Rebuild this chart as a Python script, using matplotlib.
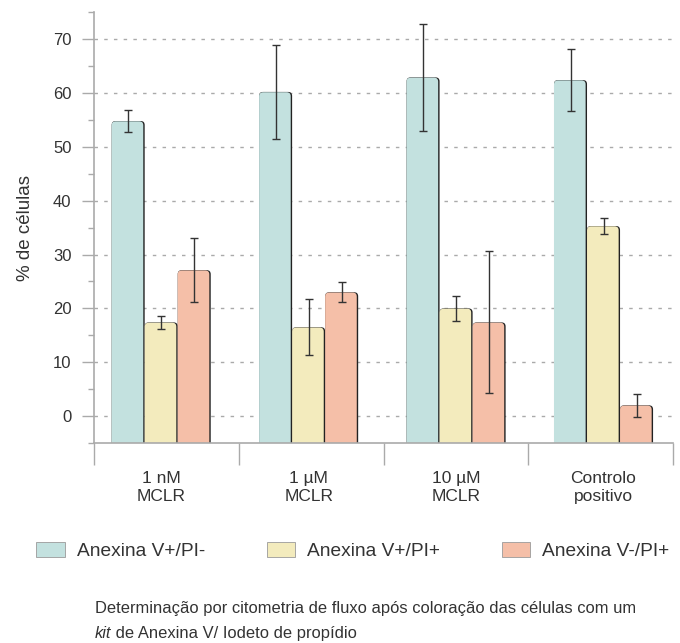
import matplotlib.pyplot as plt
import numpy as np
from matplotlib.patches import Patch, FancyBboxPatch

plt.rcParams['font.family'] = ['Liberation Sans', 'DejaVu Sans']

groups = ['1 nM\nMCLR', '1 µM\nMCLR', '10 µM\nMCLR', 'Controlo\npositivo']
series = ['Anexina V+/PI-', 'Anexina V+/PI+', 'Anexina V-/PI+']
values = [
    [54.8, 60.2, 62.9, 62.4],
    [17.4, 16.5, 20.0, 35.3],
    [27.1, 23.0, 17.4, 2.0],
]
errors = [
    [2.0, 8.8, 9.9, 5.7],
    [1.2, 5.2, 2.3, 1.4],
    [6.0, 1.9, 13.2, 2.1],
]
colors = ['#c3e1df', '#f3ebbd', '#f5bfa8']
base = -5

fig = plt.figure(figsize=(6.8, 6.43), dpi=100)
ax = fig.add_axes([0.138, 0.311, 0.852, 0.670])
ax.set_xlim(-0.5, 3.5)
ax.set_ylim(-5, 75)

# pixel sizes in data units, for rounded corners and the edge shadow
px_x = 4.0 / (0.852 * 680)
px_y = 80.0 / (0.670 * 643)
r = 4 * px_x
aspect = px_y / px_x

# bar groups sit on a slightly wider pitch than the separators
x = np.arange(len(groups)) * 1.018 - 0.035
w = 0.228
txt = '#333333'
for i, (vals, errs, c) in enumerate(zip(values, errors, colors)):
    pos = x + (i - 1) * w
    for p, v in zip(pos, vals):
        # dark shadow shape, then the coloured bar slightly narrower on top
        ax.add_patch(FancyBboxPatch((p - w / 2, base - 3), w, v - base + 3,
                                    boxstyle=f'round,pad=0,rounding_size={r}',
                                    mutation_aspect=aspect, fc='#222222', ec='none', zorder=2))
        ax.add_patch(FancyBboxPatch((p - w / 2, base - 3), w - 1.4 * px_x, v - base + 3 - 0.3 * px_y,
                                    boxstyle=f'round,pad=0,rounding_size={r}',
                                    mutation_aspect=aspect, fc=c, ec='none', zorder=2.5))
    ax.errorbar(pos, vals, yerr=errs, fmt='none', ecolor='#333333',
                elinewidth=1, capsize=3, capthick=1, zorder=4)

ax.set_yticks(np.arange(0, 71, 10))
ax.set_yticks(np.arange(-5, 76, 10), minor=True)
ax.yaxis.grid(True, which='major', color='#aaaaaa', linestyle=(0, (2.5, 4.5)), lw=1, zorder=1)

ax.set_xticks(np.arange(-0.5, 3.6, 1))
ax.set_xticklabels([])
ax.set_xticks(x, minor=True)
ax.set_xticklabels(groups, minor=True, fontsize=12.5, color=txt, linespacing=1.3)
ax.tick_params(axis='x', which='major', length=16, color='#aaaaaa', width=1)
ax.tick_params(axis='x', which='minor', length=0, pad=20)
ax.tick_params(axis='y', which='major', length=9, color='#aaaaaa', width=1,
               labelsize=12, labelcolor=txt, pad=7)
ax.tick_params(axis='y', which='minor', length=4.5, color='#aaaaaa', width=1)

for s in ['top', 'right']:
    ax.spines[s].set_visible(False)
for s in ['left', 'bottom']:
    ax.spines[s].set_color('#aaaaaa')
    ax.spines[s].set_linewidth(1.2)
    ax.spines[s].set_zorder(5)

ax.set_ylabel('% de células', fontsize=13.5, color=txt, labelpad=14)

handles = [Patch(facecolor=c, edgecolor='#9a9a9a', lw=0.6) for c in colors]
fig.legend(handles, series, loc='center', bbox_to_anchor=(0.519, 0.143), ncol=3,
           frameon=False, fontsize=13.8, handlelength=1.5, handleheight=0.8,
           handletextpad=0.63, columnspacing=3.2, labelcolor=txt)

fig.text(0.139, 0.047, 'Determinação por citometria de fluxo após coloração das células com um',
         fontsize=11.9, color=txt)
t = fig.text(0.139, 0.008, 'kit', fontsize=11.9, color=txt, style='italic')
ax.annotate(' de Anexina V/ Iodeto de propídio', xy=(1, 0), xycoords=t,
            fontsize=11.9, color=txt, ha='left', va='bottom')

fig.savefig('out.png')
